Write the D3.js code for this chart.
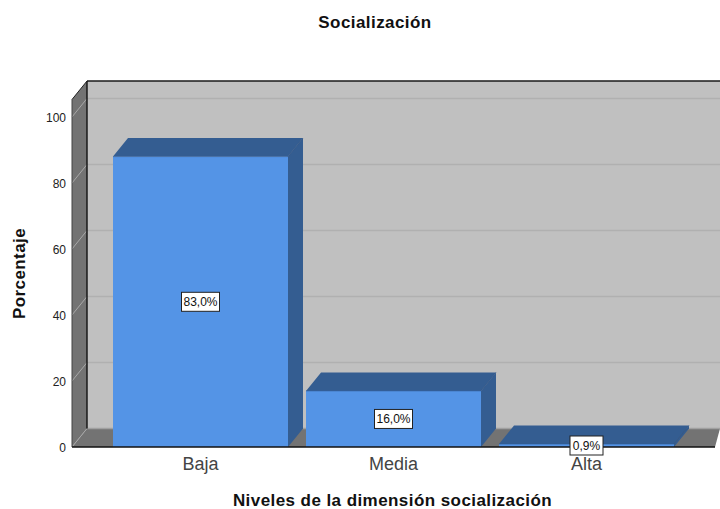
<!DOCTYPE html>
<html><head><meta charset="utf-8">
<script src="https://cdn.jsdelivr.net/npm/d3@7"></script>
<style>html,body{margin:0;padding:0;background:#fff}svg{display:block}text{font-family:"Liberation Sans",Arial,sans-serif}</style>
</head><body><svg id="c" width="720" height="509"></svg>
<script>
const categories = ["Baja","Media","Alta"];
const barHeights = [88,17,0.9];
const barLabels = ["83,0%","16,0%","0,9%"];
const yTicks = [0,20,40,60,80,100];
const title = "Socialización";
const xTitle = "Niveles de la dimensión socialización";
const yTitle = "Porcentaje";

const svg = d3.select("#c");
const y = d3.scaleLinear().domain([0,100]).range([447,117]);
const yMax = 105.3;
const x = d3.scaleBand().domain(categories).range([104,683]).paddingInner(18/193).paddingOuter(9/193);
const dx = 15, dy = -18.5;
const left = 72, right = 715, rightBack = 720;
const blue="#5494E6", dark="#345D91", wall="#C0C0C0", side="#737373", grid="#B0B0B0", sideGrid="#A8A8A8";
const poly = (pts,fill)=>svg.append("polygon").attr("points",pts.map(p=>p.join(",")).join(" ")).attr("fill",fill);
const line = (a,b,c,w)=>svg.append("line").attr("x1",a[0]).attr("y1",a[1]).attr("x2",b[0]).attr("y2",b[1]).attr("stroke",c).attr("stroke-width",w);

// walls
poly([[left+dx,y(yMax)+dy],[rightBack,y(yMax)+dy],[rightBack,y(0)+dy],[left+dx,y(0)+dy]],wall);
poly([[left,y(yMax)],[left+dx,y(yMax)+dy],[left+dx,y(0)+dy],[left,y(0)]],side);
poly([[left,y(0)],[left+dx,y(0)+dy],[rightBack,y(0)+dy],[right,y(0)]],side);
// gridlines
yTicks.forEach(t=>{
  line([left+dx,y(t)+dy],[rightBack,y(t)+dy],t>0?grid:"#A0A0A0",1.3);
  line([left,y(t)],[left+dx,y(t)+dy],sideGrid,1);
});
// frame edges
line([left+dx,y(yMax)+dy],[rightBack,y(yMax)+dy],"#1a1a1a",1.4);
line([left+dx,y(yMax)+dy],[left+dx,y(0)+dy],"#111",1.4);
line([left,y(yMax)],[left+dx,y(yMax)+dy],"#222",1);
line([left,y(yMax)],[left,y(0)],"#444",1);

// bars
categories.forEach((c,i)=>{
  const x0=x(c), x1=x0+x.bandwidth(), yt=y(barHeights[i]), yb=y(0);
  poly([[x1,yt],[x1+dx,yt+dy],[x1+dx,yb+dy],[x1,yb]],dark);
  poly([[x0,yt],[x0+dx,yt+dy],[x1+dx,yt+dy],[x1,yt]],dark);
  svg.append("rect").attr("x",x0).attr("y",yt).attr("width",x.bandwidth()).attr("height",yb-yt).attr("fill",blue);
  line([x0,yt],[x1,yt],"#2f5a92",0.6);
  line([x1,yt],[x1+dx,yt+dy],"#2f5383",0.6);
});
// baseline
line([left,y(0)],[right,y(0)],"#111",1.6);

// y ticks
svg.append("g").selectAll("text").data(yTicks).join("text")
  .attr("x",66).attr("y",t=>y(t)+5).attr("text-anchor","end").attr("font-size",12).attr("fill","#222").text(t=>t);
// category labels
svg.append("g").selectAll("text").data(categories).join("text")
  .attr("x",c=>x(c)+x.bandwidth()/2).attr("y",470).attr("text-anchor","middle").attr("font-size",18).attr("fill","#444").text(c=>c);
// value labels
categories.forEach((c,i)=>{
  const cx=x(c)+x.bandwidth()/2;
  const cy = i===2 ? 445.5 : (y(barHeights[i])+y(0))/2;
  const w = i===2 ? 33 : 38;
  svg.append("rect").attr("x",cx-w/2).attr("y",cy-9.5).attr("width",w).attr("height",19).attr("fill","#fff").attr("stroke","#222").attr("stroke-width",1);
  svg.append("text").attr("x",cx).attr("y",cy+4.3).attr("text-anchor","middle").attr("font-size",12).attr("fill","#111").text(barLabels[i]);
});
// titles
const bold = s=>s.attr("text-anchor","middle").attr("font-size",17).attr("font-weight","bold").attr("fill","#111").attr("letter-spacing",0.43);
svg.append("text").attr("x",375).attr("y",28).call(bold).text(title);
svg.append("text").attr("x",392.5).attr("y",506).call(bold).text(xTitle);
svg.append("text").attr("transform","translate(25,273.5) rotate(-90)").call(bold).text(yTitle);
</script></body></html>
